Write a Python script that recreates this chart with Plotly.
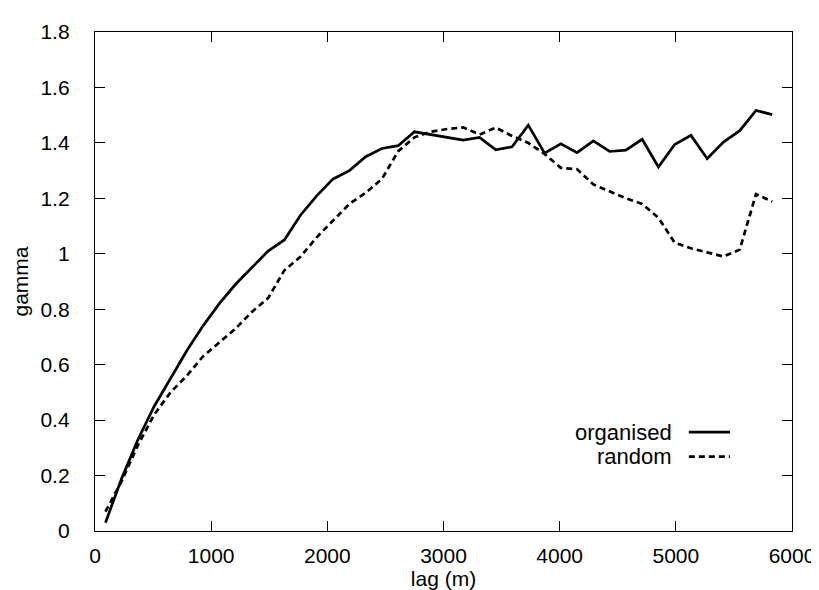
import plotly.graph_objects as go

lag = [90, 230, 370, 510, 650, 790, 930, 1070, 1210, 1350, 1490, 1630, 1770, 1910,
       2050, 2190, 2330, 2470, 2610, 2750, 2890, 3030, 3170, 3310, 3450, 3590, 3730,
       3870, 4010, 4150, 4290, 4430, 4570, 4710, 4850, 4990, 5130, 5270, 5410, 5550,
       5690, 5830]

organised = [0.03, 0.19, 0.33, 0.45, 0.55, 0.65, 0.74, 0.82, 0.89, 0.95, 1.01, 1.05,
             1.14, 1.21, 1.27, 1.30, 1.35, 1.38, 1.39, 1.44, 1.43, 1.42, 1.41, 1.42,
             1.375, 1.386, 1.464, 1.363, 1.397, 1.365, 1.407, 1.369, 1.374, 1.413,
             1.313, 1.394, 1.427, 1.343, 1.403, 1.444, 1.517, 1.502]

random_ = [0.07, 0.18, 0.31, 0.42, 0.50, 0.56, 0.63, 0.68, 0.73, 0.79, 0.84, 0.94,
           0.99, 1.06, 1.12, 1.18, 1.22, 1.27, 1.37, 1.42, 1.44, 1.45, 1.456, 1.43,
           1.455, 1.425, 1.40, 1.36, 1.31, 1.305, 1.25, 1.225, 1.20, 1.18, 1.13,
           1.04, 1.02, 1.005, 0.99, 1.015, 1.215, 1.188]

x_ticks = [0, 1000, 2000, 3000, 4000, 5000, 6000]
y_ticks = [0, 0.2, 0.4, 0.6, 0.8, 1.0, 1.2, 1.4, 1.6, 1.8]
y_labels = ["0", "0.2", "0.4", "0.6", "0.8", "1", "1.2", "1.4", "1.6", "1.8"]

FONT = "Liberation Sans, Arial, sans-serif"

fig = go.Figure()
fig.add_trace(go.Scatter(x=lag, y=organised, mode="lines", name="organised",
                         line=dict(color="black", width=2.7), showlegend=False))
fig.add_trace(go.Scatter(x=lag, y=random_, mode="lines", name="random",
                         line=dict(color="black", width=2.7, dash="6px,4px"),
                         showlegend=False))

axis_common = dict(showgrid=False, zeroline=False, showline=True, linecolor="black",
                   linewidth=1.4, mirror="allticks", ticks="inside", ticklen=10,
                   tickwidth=1.3, tickcolor="black",
                   tickfont=dict(family=FONT, size=21, color="black"))

fig.update_xaxes(range=[0, 6000], tickvals=x_ticks, ticktext=[str(v) for v in x_ticks],
                 ticklabelstandoff=6,
                 title=dict(text="lag (m)", font=dict(family=FONT, size=21, color="black"),
                            standoff=4),
                 **axis_common)
fig.update_yaxes(range=[0, 1.8], tickvals=y_ticks, ticktext=y_labels,
                 ticklabelstandoff=20,
                 title=dict(text="gamma", font=dict(family=FONT, size=21, color="black"),
                            standoff=6),
                 **axis_common)

# custom legend (text right-aligned, sample line to the right)
leg = [("organised", "solid", 0.198), ("random", "6px,4px", 0.149)]
for name, dash, yp in leg:
    fig.add_annotation(xref="paper", yref="paper", x=0.830, y=yp, text=name,
                       showarrow=False, xanchor="right", yanchor="middle",
                       font=dict(family=FONT, size=22, color="black"))
    fig.add_shape(type="line", xref="paper", yref="paper", x0=0.852, x1=0.911,
                  y0=yp, y1=yp, line=dict(color="black", width=2.7, dash=dash))

fig.update_layout(width=819, height=590, plot_bgcolor="white", paper_bgcolor="white",
                  margin=dict(l=87, r=27, t=16, b=64),
                  font=dict(family=FONT, size=21, color="black"))

fig.write_html("out.html")
